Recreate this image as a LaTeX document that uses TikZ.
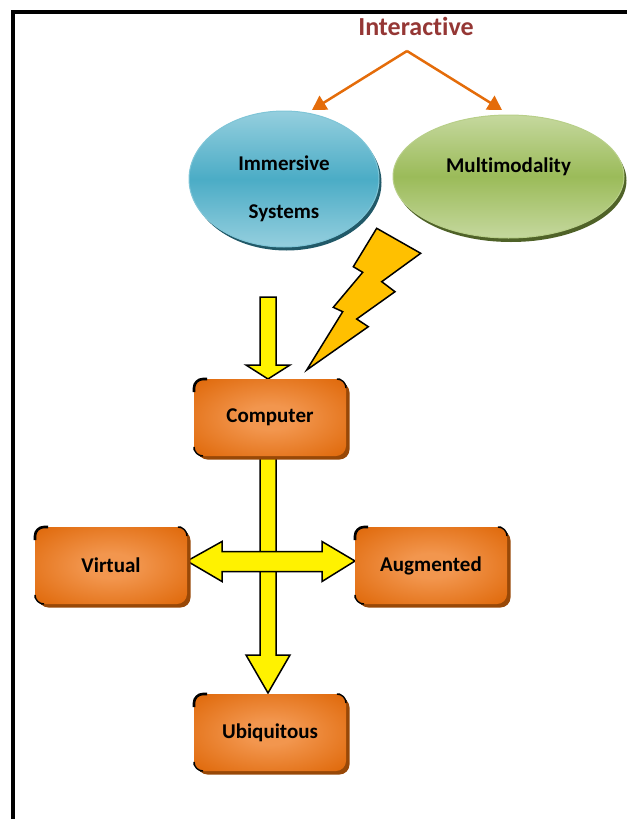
\documentclass[tikz,border=0pt]{standalone}
\usepackage{fontspec}
\setmainfont{Carlito}[RawFeature={-liga;-clig;-dlig;-calt;-rlig}]
\usetikzlibrary{shapes.geometric,arrows.meta,calc}
\definecolor{orgedge}{HTML}{E06A0C}
\definecolor{orglight}{HTML}{F2964E}
\definecolor{orgshadow}{HTML}{984807}
\definecolor{blumid}{HTML}{4BACC6}
\definecolor{blulight}{HTML}{95CFDE}
\definecolor{bludark}{HTML}{215968}
\definecolor{grnmid}{HTML}{9BBB59}
\definecolor{grnlight}{HTML}{C5D89E}
\definecolor{grndark}{HTML}{4F6228}
\definecolor{intred}{HTML}{953735}
\definecolor{arrorange}{HTML}{E46C0A}
\definecolor{boltcol}{HTML}{FFC000}
\pgfdeclareradialshading{boxshade}{\pgfpoint{0bp}{0bp}}{color(0bp)=(orglight); color(8bp)=(orglight); color(34bp)=(orgedge); color(50bp)=(orgedge)}
\begin{document}
\begin{tikzpicture}[x=1pt,y=-1pt,
  box/.style={rectangle, rounded corners=10pt, minimum width=152pt, minimum height=77pt,
    inner sep=0pt, outer sep=0pt, shading=boxshade,
    font=\bfseries\fontsize{21}{25}\selectfont,
    preaction={fill=orgshadow, transform canvas={shift={(3.5pt,-3.5pt)}}}},
  bubble/.style={ellipse, inner sep=0pt, outer sep=0pt},
  bubtext/.style={font=\bfseries\fontsize{21}{48}\selectfont, align=center},
  blockarrow/.style={fill=yellow, draw=black, line width=1.5pt, line join=miter},
  orarrow/.style={draw=arrorange, line width=2.5pt, -{Triangle[length=14pt,width=16pt]}},
  cornermark/.style={draw=black, line width=2.6pt, rounded corners=9pt}
]
\useasboundingbox (0,0) rectangle (627,819);
% frame
\draw[line width=3.5pt, line join=miter] (13,819) -- (13,12) -- (627,12);

% title
\node[font=\bfseries\fontsize{26}{30}\selectfont, text=intred] (interactive) at (416,26) {Interact\kern0pt ive};

% ellipses
\node[bubble, minimum width=190pt, minimum height=136pt,
  top color=blulight, bottom color=blulight, middle color=blumid,
  draw=blulight!70!blumid, line width=1pt,
  preaction={fill=bludark, transform canvas={shift={(2.5pt,-3.5pt)}}}] (immersive) at (284,179) {};
\node[bubtext] (immersivetxt) at (284,189) {Immersive\\Systems};

\node[bubble, minimum width=231pt, minimum height=123pt,
  top color=grnlight, bottom color=grnlight, middle color=grnmid,
  draw=grnlight!70!grnmid, line width=1pt,
  preaction={fill=grndark, transform canvas={shift={(2.5pt,-4pt)}}}] (multimodality) at (508.5,176.5) {};
\node[bubtext] (multitxt) at (508.5,167) {Mult\kern0pt imodality};

% orange arrows
\coordinate (apex) at (407,51);
\coordinate (tipl) at (312,110);
\coordinate (tipr) at (502,110);
\draw[orarrow] (apex) -- (tipl);
\draw[orarrow] (apex) -- (tipr);

% lightning bolt
\filldraw[fill=boltcol, draw=black, line width=1.5pt, line join=miter]
  (376.7,228.3) -- (420.7,253.3) -- (381.7,281.7) -- (395,291.7) -- (356.7,319)
  -- (368.3,326.7) -- (306.7,370) -- (342.7,311.7) -- (333.3,307.3)
  -- (362.7,272.3) -- (353.3,266.7) -- cycle;

% yellow block arrows
\filldraw[blockarrow] (260,297) -- (276,297) -- (276,365) -- (290,365) -- (268,379)
  -- (246,365) -- (260,365) -- cycle;
\filldraw[blockarrow] (260,450) -- (276,450) -- (276,655) -- (290,655) -- (268,693)
  -- (246,655) -- (260,655) -- cycle;
\filldraw[blockarrow] (187,561) -- (222,541.5) -- (222,551.5) -- (322,551.5) -- (322,541.5)
  -- (355,561) -- (322,581.5) -- (322,571.5) -- (222,571.5) -- (222,581.5) -- cycle;

% boxes
\node[box] (computer) at (270,417.5) {Computer};
\node[box] (virtual) at (111,565.5) {Virtual};
\node[box] (augmented) at (431,565.5) {Augmented};
\node[box] (ubiquitous) at (270,732.5) {Ubiquitous};

\foreach \n in {computer,virtual,augmented,ubiquitous}{
  \draw[cornermark] ($(\n.north west)+(0,13)$) -- (\n.north west) -- ($(\n.north west)+(13,0)$);
  \draw[cornermark, line width=1.4pt] ($(\n.north east)+(-6,0)$) -- (\n.north east) -- ($(\n.north east)+(0,6)$);
  \draw[cornermark, line width=1.4pt] ($(\n.south west)+(0,-6)$) -- (\n.south west) -- ($(\n.south west)+(6,0)$);
}
\end{tikzpicture}
\end{document}
